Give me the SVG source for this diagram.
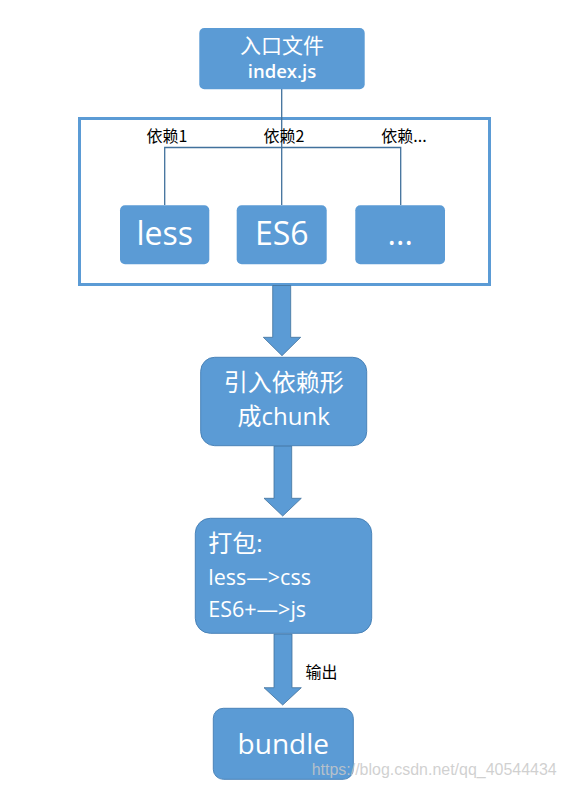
<svg xmlns="http://www.w3.org/2000/svg" width="566" height="788" viewBox="0 0 566 788">
<style>
.box{fill:#5b9bd5;stroke:#4a83b8;stroke-width:1}
.flat{fill:#5b9bd5}
.wt{fill:#ffffff;font-family:"Open Sans","Noto Sans CJK SC",sans-serif}
.lbl{fill:#000000;font-family:"Noto Sans CJK SC","Noto Sans",sans-serif;font-size:16px}
.ln{fill:none;stroke:#41719c;stroke-width:1.3}
.arr{fill:#5b9bd5;stroke:#41719c;stroke-width:0.8}
</style>
<rect width="566" height="788" fill="#ffffff"/>
<g id="container">
<rect x="79.5" y="118.5" width="410" height="166" fill="none" stroke="#5b9bd5" stroke-width="3"/>
</g>
<g id="connectors">
<line class="ln" x1="281.7" y1="89" x2="281.7" y2="205"/>
<polyline class="ln" points="164.7,205 164.7,147.5 400.7,147.5 400.7,205"/>
<path class="arr" d="M272.7,285.5 H290.7 V337.3 H300.7 L282,355.7 L263.3,337.3 H272.7 Z"/>
<path class="arr" d="M274,446 H291.7 V498.3 H301.3 L282.7,516 L264,498.3 H274 Z"/>
<path class="arr" d="M274,634 H292 V687.7 H301.3 L282.7,705 L264,687.7 H274 Z"/>
<text class="lbl" x="167" y="142" text-anchor="middle">依赖1</text>
<text class="lbl" x="284" y="142" text-anchor="middle">依赖2</text>
<text class="lbl" x="404" y="142" text-anchor="middle">依赖...</text>
<text class="lbl" x="305.5" y="678">输出</text>
</g>
<g id="entry">
<rect class="flat" x="199.3" y="28" width="165.4" height="61.3" rx="5"/>
<text class="wt" x="282" y="53" text-anchor="middle" font-size="21">入口文件</text>
<text class="wt" x="282" y="77.5" text-anchor="middle" font-size="18.5" font-weight="600">index.js</text>
</g>
<g id="less">
<rect class="flat" x="120" y="205.3" width="89.3" height="59" rx="5"/>
<text class="wt" x="164.7" y="245" text-anchor="middle" font-size="32">less</text>
</g>
<g id="es6">
<rect class="flat" x="236.7" y="205.3" width="90" height="59" rx="5"/>
<text class="wt" x="281.7" y="245" text-anchor="middle" font-size="32">ES6</text>
</g>
<g id="more">
<rect class="flat" x="355.3" y="205.3" width="89.7" height="59" rx="5"/>
<text class="wt" x="400.2" y="245" text-anchor="middle" font-size="32">...</text>
</g>
<g id="chunk">
<rect class="box" x="200.7" y="357.3" width="166" height="88.4" rx="14"/>
<text class="wt" x="283.7" y="391" text-anchor="middle" font-size="24">引入依赖形</text>
<text class="wt" x="283.7" y="425" text-anchor="middle" font-size="24">成chunk</text>
</g>
<g id="pack">
<rect class="box" x="195.3" y="518.3" width="176.4" height="115" rx="15"/>
<text class="wt" x="208.3" y="552" font-size="24">打包:</text>
<text class="wt" x="208.3" y="584.5" font-size="21.5">less—&gt;css</text>
<text class="wt" x="208.3" y="617" font-size="21.5">ES6+—&gt;js</text>
</g>
<g id="bundle">
<rect class="box" x="213.3" y="708.3" width="140" height="71" rx="10"/>
<text class="wt" x="283.3" y="753.5" text-anchor="middle" font-size="28">bundle</text>
</g>
<text x="311.7" y="775" font-family="Liberation Sans,Arial,sans-serif" font-size="16" fill="#c8c8c8" fill-opacity="0.85" textLength="245" lengthAdjust="spacingAndGlyphs">https://blog.csdn.net/qq_40544434</text>
</svg>
